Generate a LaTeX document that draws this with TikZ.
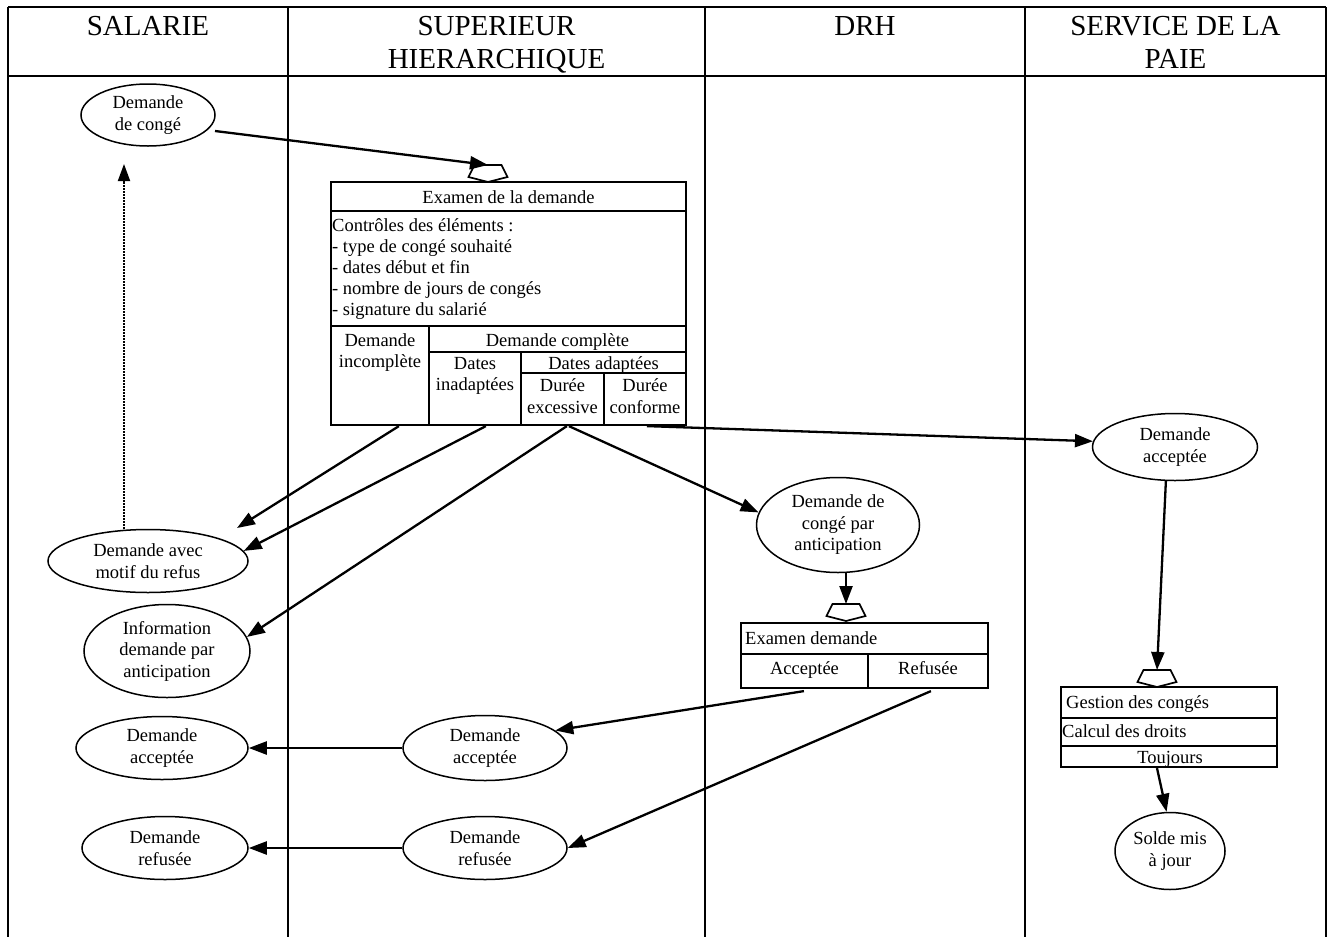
\documentclass[tikz,border=0pt]{standalone}
\usepackage{fontspec}
\setmainfont{Liberation Serif}
\usetikzlibrary{arrows.meta,calc,shapes.geometric}
\begin{document}
\begin{tikzpicture}[x=1pt,y=-1pt,
  lane/.style={line width=2.2pt},
  ell/.style={ellipse,draw,line width=1.5pt,inner sep=0pt,align=center,font=\fontsize{18.5}{21.5}\selectfont},
  arr/.style={line width=2.3pt,-{Triangle[length=18pt,width=13pt]}},
  dotarr/.style={line width=1.8pt,dash pattern=on 1.5pt off 1.5pt,-{Triangle[length=17pt,width=12pt]}},
  boxl/.style={line width=2.2pt},
  rbox/.style={draw,line width=2.2pt,inner sep=0pt},
  txt/.style={inner sep=0pt,font=\fontsize{18.5}{21.5}\selectfont},
  hdr/.style={inner sep=0pt,font=\fontsize{29}{33}\selectfont,anchor=base},
  pent/.pic={\draw[line width=1.7pt,fill=white] (-13.5,0) -- (13.5,0) -- (19.5,12) -- (0,17) -- (-19.5,12) -- cycle;}
]
\useasboundingbox (0,0) rectangle (1327,937);
% swimlane table
\draw[lane] (8,7) -- (1326,7);
\draw[lane] (8,76) -- (1326,76);
\foreach \xx in {8,288,705,1025,1326} \draw[lane] (\xx,7) -- (\xx,937);
\node[hdr] (h1) at (148,35) {SALARIE};
\node[hdr] (h2a) at (496.5,35) {SUPERIEUR};
\node[hdr] (h2b) at (496.5,68) {HIERARCHIQUE};
\node[hdr] (h3) at (865,35) {DRH};
\node[hdr] (h4a) at (1175.5,35) {SERVICE DE LA};
\node[hdr] (h4b) at (1175.5,68) {PAIE};

% ellipses
\node[ell,minimum width=134pt,minimum height=62pt] (e1) at (148,115) {Demande\\de congé};
\node[ell,minimum width=200pt,minimum height=63pt] (e2) at (148,561) {Demande avec\\motif du refus};
\node[ell,minimum width=166pt,minimum height=93pt] (e3) at (167,651) {Information\\demande par\\anticipation};
\node[ell,minimum width=172pt,minimum height=63pt] (e4) at (162,748) {Demande\\acceptée};
\node[ell,minimum width=166pt,minimum height=63pt] (e5) at (165,848) {Demande\\refusée};
\node[ell,minimum width=164pt,minimum height=65pt] (e6) at (485,748) {Demande\\acceptée};
\node[ell,minimum width=164pt,minimum height=63pt] (e7) at (485,848) {Demande\\refusée};
\node[ell,minimum width=163pt,minimum height=95pt] (e8) at (838,525) {Demande de\\congé par\\anticipation};
\node[ell,minimum width=165pt,minimum height=67pt] (e9) at (1175,447) {Demande\\acceptée};
\node[ell,minimum width=110pt,minimum height=77pt] (e10) at (1170,851) {Solde mis\\à jour};

% main examination box
\node[rbox,minimum width=355pt,minimum height=243pt] (b1) at (508.5,303.5) {};
\draw[boxl] (331,211) -- (686,211);
\draw[boxl] (331,326) -- (686,326);
\draw[boxl] (429,326) -- (429,425);
\draw[boxl] (429,352) -- (686,352);
\draw[boxl] (521,352) -- (521,425);
\draw[boxl] (521,373) -- (686,373);
\draw[boxl] (604,373) -- (604,425);
\node[txt,anchor=base] (t1) at (508.5,203) {Examen de la demande};
\node[txt,anchor=base west] (t2) at (332,231) {Contrôles des éléments :};
\node[txt,anchor=base west] (t3) at (332,252) {- type de congé souhaité};
\node[txt,anchor=base west] (t4) at (332,273) {- dates début et fin};
\node[txt,anchor=base west] (t5) at (332,294) {- nombre de jours de congés};
\node[txt,anchor=base west] (t6) at (332,315) {- signature du salarié};
\node[txt,anchor=base] (t7) at (380,346) {Demande};
\node[txt,anchor=base] (t8) at (380,367) {incomplète};
\node[txt,anchor=base] (t9) at (557.5,346) {Demande complète};
\node[txt,anchor=base] (t10) at (475,369) {Dates};
\node[txt,anchor=base] (t11) at (475,390) {inadaptées};
\node[txt,anchor=base] (t12) at (603.5,369) {Dates adaptées};
\node[txt,anchor=base] (t13) at (562.5,391) {Durée};
\node[txt,anchor=base] (t14) at (562.5,413) {excessive};
\node[txt,anchor=base] (t15) at (645,391) {Durée};
\node[txt,anchor=base] (t16) at (645,413) {conforme};
\pic at (488,165) {pent};
\coordinate (p1) at (488,165);

% DRH box
\node[rbox,minimum width=247pt,minimum height=65pt] (b2) at (864.5,655.5) {};
\draw[boxl] (741,654) -- (988,654);
\draw[boxl] (868,654) -- (868,688);
\node[txt,anchor=base west] (t17) at (745,644) {Examen demande};
\node[txt,anchor=base] (t18) at (804.5,674) {Acceptée};
\node[txt,anchor=base] (t19) at (928,674) {Refusée};
\pic at (846,604) {pent};
\coordinate (p2) at (846,604);

% Paie box
\node[rbox,minimum width=216pt,minimum height=80pt] (b3) at (1169,727) {};
\draw[boxl] (1061,718) -- (1277,718);
\draw[boxl] (1061,746) -- (1277,746);
\node[txt,anchor=base west] (t20) at (1066,708) {Gestion des congés};
\node[txt,anchor=base west] (t21) at (1062,737) {Calcul des droits};
\node[txt,anchor=base] (t22) at (1170,763) {Toujours};
\pic at (1157,670) {pent};
\coordinate (p3) at (1157,670);

% connectors
\coordinate (dtop) at (124,164);
\draw[arr] ($(e1)+(67,16)$) -- (p1);
\draw[dotarr] (dtop |- e2.north) -- (dtop);
\draw[arr] ($(b1.south west)+(69,0)$) -- ($(e2)+(89,-33)$);
\draw[arr] ($(b1.south west)+(156,0)$) -- (e2.6);
\draw[arr] ($(b1.south west)+(237,0)$) -- (e3.10);
\draw[arr] ($(b1.south west)+(239,0)$) -- (e8.171);
\draw[arr] ($(b1.south west)+(317,0)$) -- (e9.176);
\draw[arr] (e9.255) -- (p3);
\draw[arr] ($(b3.south)+(-12,0)$) -- (e10.95);
\draw[arr] (e8.south -| p2) -- (p2);
\draw[arr] ($(b2.south west)+(64,2)$) -- (e6.14);
\draw[arr] ($(b2.south west)+(191,2)$) -- (e7.east);
\draw[arr] (e6.west) -- (e4.east);
\draw[arr] (e7.west) -- (e5.east);
\end{tikzpicture}
\end{document}
